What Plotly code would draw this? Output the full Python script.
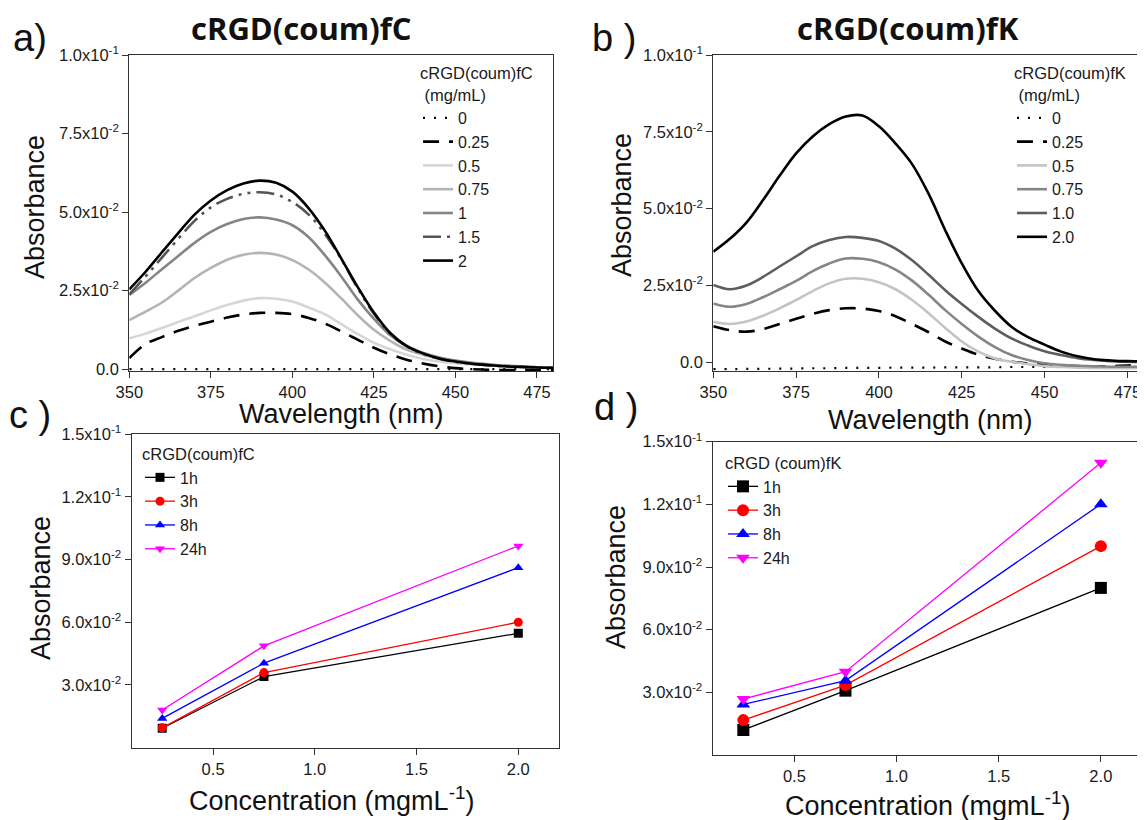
import plotly.graph_objects as go

# ---------------- data ----------------
wavelength = [350, 355, 360, 365, 370, 375, 380, 385, 390, 395, 400, 405, 410, 415,
              420, 425, 430, 435, 440, 445, 450, 455, 460, 465, 470, 475, 480]

# panel a : cRGD(coum)fC spectra (mg/mL)
fc_labels = ["0", "0.25", "0.5", "0.75", "1", "1.5", "2"]
fc_0 = [0.0, 0.0, 0.0, 0.0, 0.0, 0.0, 0.0, 0.0, 0.0, 0.0, 0.0, 0.0, 0.0, 0.0,
        0.0, 0.0, 0.0, 0.0, 0.0, 0.0, 0.0, 0.0, 0.0, 0.0, 0.0, 0.0, 0.0]
fc_025 = [0.0035, 0.0080, 0.0102, 0.0122, 0.0138, 0.0151, 0.0164, 0.0174, 0.0179, 0.0179,
          0.0175, 0.0163, 0.0145, 0.0120, 0.0094, 0.0068, 0.0047, 0.0030, 0.0018, 0.0009,
          0.0003, 0.0000, -0.0002, -0.0003, -0.0003, -0.0003, -0.0003]
fc_05 = [0.0098, 0.0113, 0.0131, 0.0150, 0.0168, 0.0187, 0.0204, 0.0218, 0.0226, 0.0224,
         0.0215, 0.0196, 0.0174, 0.0143, 0.0112, 0.0084, 0.0063, 0.0046, 0.0032, 0.0024,
         0.0019, 0.0015, 0.0012, 0.0010, 0.0008, 0.0006, 0.0005]
fc_075 = [0.0156, 0.0183, 0.0212, 0.0250, 0.0290, 0.0322, 0.0348, 0.0364, 0.0370, 0.0365,
          0.0347, 0.0317, 0.0275, 0.0225, 0.0172, 0.0125, 0.0090, 0.0062, 0.0046, 0.0034,
          0.0025, 0.0019, 0.0014, 0.0011, 0.0008, 0.0006, 0.0005]
fc_1 = [0.0236, 0.0275, 0.0318, 0.0360, 0.0402, 0.0437, 0.0462, 0.0478, 0.0483, 0.0476,
        0.0458, 0.0420, 0.0362, 0.0295, 0.0222, 0.0160, 0.0108, 0.0074, 0.0052, 0.0037,
        0.0027, 0.0020, 0.0015, 0.0011, 0.0008, 0.0006, 0.0005]
fc_15 = [0.0238, 0.0295, 0.0355, 0.0415, 0.0472, 0.0515, 0.0542, 0.0558, 0.0563, 0.0556,
         0.0532, 0.0492, 0.0430, 0.0350, 0.0258, 0.0176, 0.0112, 0.0072, 0.0048, 0.0033,
         0.0023, 0.0017, 0.0012, 0.0009, 0.0007, 0.0005, 0.0004]
fc_2 = [0.0254, 0.0310, 0.0372, 0.0433, 0.0492, 0.0537, 0.0570, 0.0591, 0.0600, 0.0593,
        0.0565, 0.0512, 0.0440, 0.0352, 0.0262, 0.0180, 0.0115, 0.0074, 0.0050, 0.0034,
        0.0024, 0.0017, 0.0013, 0.0009, 0.0007, 0.0005, 0.0004]

# panel b : cRGD(coum)fK spectra (mg/mL)
fk_labels = ["0", "0.25", "0.5", "0.75", "1.0", "2.0"]
fk_0 = [-0.0022, -0.0022, -0.0021, -0.0021, -0.0020, -0.0020, -0.0019, -0.0019, -0.0018,
        -0.0018, -0.0018, -0.0017, -0.0017, -0.0017, -0.0016, -0.0016, -0.0016, -0.0016,
        -0.0015, -0.0015, -0.0015, -0.0015, -0.0015, -0.0015, -0.0015, -0.0015, -0.0015]
fk_025 = [0.0118, 0.0105, 0.0100, 0.0108, 0.0125, 0.0142, 0.0158, 0.0170, 0.0176, 0.0175,
          0.0167, 0.0150, 0.0125, 0.0098, 0.0068, 0.0045, 0.0025, 0.0012, 0.0002, -0.0003,
          -0.0007, -0.0010, -0.0012, -0.0013, -0.0012, -0.0010, -0.0009]
fk_05 = [0.0132, 0.0125, 0.0133, 0.0152, 0.0176, 0.0203, 0.0232, 0.0257, 0.0272, 0.0272,
         0.0261, 0.0238, 0.0203, 0.0160, 0.0112, 0.0068, 0.0035, 0.0013, 0.0002, -0.0006,
         -0.0012, -0.0015, -0.0017, -0.0018, -0.0019, -0.0019, -0.0018]
fk_075 = [0.0192, 0.0181, 0.0190, 0.0212, 0.0238, 0.0265, 0.0297, 0.0322, 0.0338, 0.0337,
          0.0326, 0.0302, 0.0266, 0.0220, 0.0170, 0.0125, 0.0084, 0.0050, 0.0024, 0.0008,
          -0.0003, -0.0008, -0.0011, -0.0013, -0.0014, -0.0014, -0.0014]
fk_1 = [0.0252, 0.0238, 0.0250, 0.0278, 0.0312, 0.0345, 0.0378, 0.0398, 0.0408, 0.0405,
        0.0395, 0.0370, 0.0332, 0.0285, 0.0235, 0.0190, 0.0148, 0.0110, 0.0078, 0.0055,
        0.0036, 0.0024, 0.0014, 0.0008, 0.0004, 0.0002, 0.0002]
fk_2 = [0.0360, 0.0402, 0.0455, 0.0528, 0.0607, 0.0680, 0.0735, 0.0775, 0.0800, 0.0803,
        0.0768, 0.0712, 0.0645, 0.0548, 0.0430, 0.0322, 0.0232, 0.0168, 0.0116, 0.0082,
        0.0058, 0.0035, 0.0020, 0.0010, 0.0006, 0.0004, 0.0004]

# panels c / d : absorbance vs concentration
concentration = [0.25, 0.75, 2.0]
time_labels = ["1h", "3h", "8h", "24h"]
fc_time = {
    "1h": [0.0093, 0.0340, 0.0547],
    "3h": [0.0095, 0.0359, 0.0600],
    "8h": [0.0140, 0.0404, 0.0861],
    "24h": [0.0180, 0.0487, 0.0965],
}
fk_time = {
    "1h": [0.0120, 0.0308, 0.0800],
    "3h": [0.0167, 0.0335, 0.1000],
    "8h": [0.0242, 0.0356, 0.1201],
    "24h": [0.0268, 0.0399, 0.1399],
}

spec_ticks = [350, 375, 400, 425, 450, 475]
spec_yticks = [0.0, 0.025, 0.05, 0.075, 0.1]
spec_yticktext = ["0.0", "2.5x10<sup>-2</sup>", "5.0x10<sup>-2</sup>",
                  "7.5x10<sup>-2</sup>", "1.0x10<sup>-1</sup>"]
conc_ticks = [0.5, 1.0, 1.5, 2.0]
conc_ticktext = ["0.5", "1.0", "1.5", "2.0"]
conc_yticks = [0.03, 0.06, 0.09, 0.12, 0.15]
conc_yticktext = ["3.0x10<sup>-2</sup>", "6.0x10<sup>-2</sup>", "9.0x10<sup>-2</sup>",
                  "1.2x10<sup>-1</sup>", "1.5x10<sup>-1</sup>"]

# ---------------- geometry (page pixels -> paper) ----------------
OFF = 8                      # page body margin
FW, FH = 1145 - OFF, 820 - OFF
FONT = "Liberation Sans, Arial, sans-serif"


def fx(x):
    return (x - OFF) / FW


def fy(y):
    return 1 - (y - OFF) / FH


def dx(a, b):
    return [fx(a), min(fx(b), 1.0)]


def dy(top, bottom):
    return [fy(bottom), fy(top)]


fc_styles = [
    dict(color="black", dash="2px,9px", width=2.2),
    dict(color="black", dash="16px,10px", width=2.6),
    dict(color="#d6d6d6", dash="solid", width=2.6),
    dict(color="#b4b4b4", dash="solid", width=2.6),
    dict(color="#858585", dash="solid", width=2.6),
    dict(color="#555555", dash="18px,6px,3px,6px,3px,6px", width=2.6),
    dict(color="black", dash="solid", width=2.6),
]
fk_styles = [
    dict(color="black", dash="2px,9px", width=2.2),
    dict(color="black", dash="16px,10px", width=2.6),
    dict(color="#c4c4c4", dash="solid", width=2.6),
    dict(color="#868686", dash="solid", width=2.6),
    dict(color="#5e5e5e", dash="solid", width=2.6),
    dict(color="black", dash="solid", width=2.6),
]
time_colors = {"1h": "black", "3h": "red", "8h": "blue", "24h": "magenta"}
time_symbols = {"1h": "square", "3h": "circle", "8h": "triangle-up", "24h": "triangle-down"}

fig = go.Figure()

for lab, ys, st in zip(fc_labels, [fc_0, fc_025, fc_05, fc_075, fc_1, fc_15, fc_2], fc_styles):
    fig.add_trace(go.Scatter(x=wavelength, y=ys, mode="lines", name=lab, line=st,
                             line_shape="spline", xaxis="x", yaxis="y", legend="legend"))

for lab, ys, st in zip(fk_labels, [fk_0, fk_025, fk_05, fk_075, fk_1, fk_2], fk_styles):
    fig.add_trace(go.Scatter(x=wavelength, y=ys, mode="lines", name=lab, line=st,
                             line_shape="spline", xaxis="x2", yaxis="y2", legend="legend2"))

for t in time_labels:
    fig.add_trace(go.Scatter(x=concentration, y=fc_time[t], mode="lines+markers", name=t,
                             line=dict(color=time_colors[t], width=1.3),
                             marker=dict(symbol=time_symbols[t], size=9, color=time_colors[t]),
                             xaxis="x3", yaxis="y3", legend="legend3"))

for t in time_labels:
    fig.add_trace(go.Scatter(x=concentration, y=fk_time[t], mode="lines+markers", name=t,
                             line=dict(color=time_colors[t], width=1.3),
                             marker=dict(symbol=time_symbols[t], size=12, color=time_colors[t]),
                             xaxis="x4", yaxis="y4", legend="legend4"))


def ax(domain, rng, tickvals, ticktext, anchor):
    return dict(domain=domain, range=rng, tickvals=tickvals, ticktext=ticktext,
                anchor=anchor, ticks="outside", ticklen=6, tickwidth=1.2,
                tickcolor="#333333", showline=True, mirror=True, linecolor="#333333",
                linewidth=1.3, showgrid=False, zeroline=False, automargin=False,
                tickfont=dict(family=FONT, size=16.5, color="#1a1a1a"))


layout = dict(
    width=FW, height=FH,
    margin=dict(l=0, r=0, t=0, b=0, pad=0, autoexpand=False),
    paper_bgcolor="white", plot_bgcolor="white",
    font=dict(family=FONT, color="#1a1a1a"),
    xaxis=ax(dx(129.3, 553.3), [350, 480], spec_ticks, [str(v) for v in spec_ticks], "y"),
    yaxis=ax(dy(55, 371), [-0.0006, 0.1], spec_yticks, spec_yticktext, "x"),
    xaxis2=ax(dx(713.3, 1144), [350, 480], spec_ticks, [str(v) for v in spec_ticks], "y2"),
    yaxis2=ax(dy(55, 370.7), [-0.0027, 0.1], spec_yticks, spec_yticktext, "x2"),
    xaxis3=ax(dx(131.7, 559), [0.1, 2.2], conc_ticks, conc_ticktext, "y3"),
    yaxis3=ax(dy(434, 747.7), [0.0, 0.15], conc_yticks, conc_yticktext, "x3"),
    xaxis4=ax(dx(712.7, 1141.7), [0.1, 2.2], conc_ticks, conc_ticktext, "y4"),
    yaxis4=ax(dy(441.7, 755), [0.0, 0.15], conc_yticks, conc_yticktext, "x4"),
    showlegend=True,
)

LEG_SIZE = 16


def leg(x, y, title):
    return dict(x=fx(x), y=fy(y), xanchor="left", yanchor="top",
                bgcolor="rgba(0,0,0,0)", borderwidth=0, tracegroupgap=0,
                font=dict(family=FONT, size=LEG_SIZE, color="#1a1a1a"),
                title=dict(text=title, font=dict(family=FONT, size=LEG_SIZE + 0.5, color="#1a1a1a")),
                itemclick=False)


layout["legend"] = leg(418, 58, "cRGD(coum)fC<br> (mg/mL)")
layout["legend2"] = leg(1012, 58, "cRGD(coum)fK<br> (mg/mL)")
layout["legend3"] = leg(140, 439, "cRGD(coum)fC")
layout["legend4"] = leg(723, 448, "cRGD (coum)fK")

fig.update_layout(**layout)

annotations = []


def note(text, x, y, size, bold=False, family=FONT, angle=0):
    annotations.append(dict(text=("<b>%s</b>" % text) if bold else text,
                            x=fx(x), y=fy(y), xref="paper", yref="paper",
                            xanchor="center", yanchor="middle", showarrow=False,
                            textangle=angle,
                            font=dict(family=family, size=size, color="#111111")))


# titles
note("cRGD(coum)fC", 301, 28, 31, bold=True, family="Open Sans, sans-serif")
note("cRGD(coum)fK", 908, 28, 31, bold=True, family="Open Sans, sans-serif")
# panel labels
note("a)", 30, 38, 38)
note("b )", 614, 38, 38)
note("c )", 30, 415, 38)
note("d )", 616, 407, 38)
# axis titles
note("Wavelength (nm)", 341, 414, 27)
note("Wavelength (nm)", 930, 420, 27)
note("Concentration (mgmL<sup>-1</sup>)", 331, 799, 27)
note("Concentration (mgmL<sup>-1</sup>)", 927, 804, 27)
note("Absorbance", 35, 207, 27, angle=-90)
note("Absorbance", 622, 205, 27, angle=-90)
note("Absorbance", 41, 588, 27, angle=-90)
note("Absorbance", 616, 577, 27, angle=-90)

fig.update_layout(annotations=annotations)

fig.write_html("out.html")
